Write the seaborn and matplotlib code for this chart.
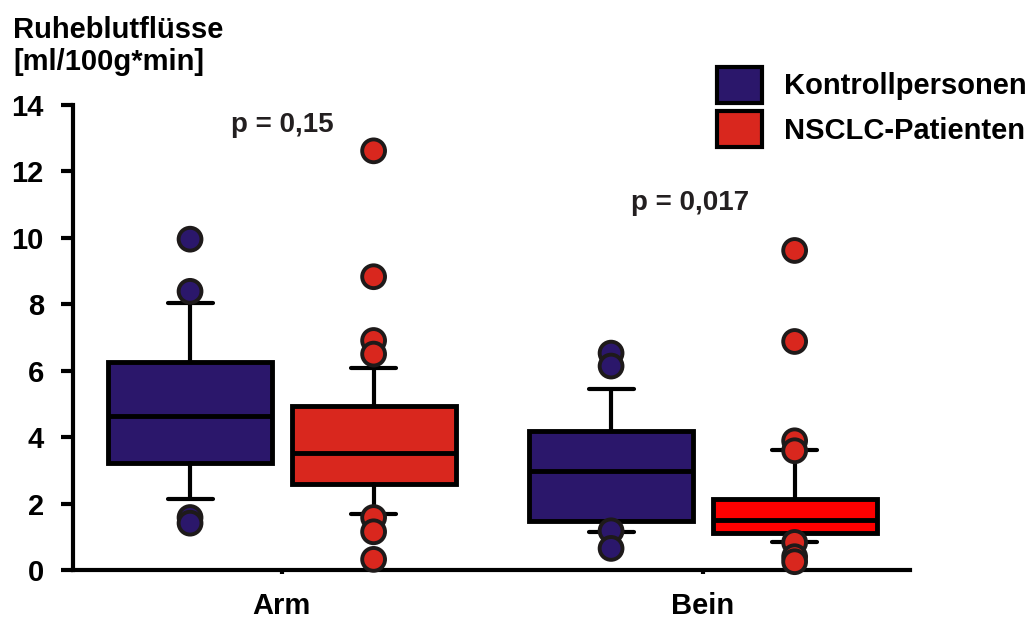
import numpy as np
import pandas as pd
import matplotlib
matplotlib.use("Agg")
import matplotlib.pyplot as plt
from matplotlib.patches import Patch
import seaborn as sns

# Data (box statistics per group)
groups = ["Arm", "Bein"]
series = ["Kontrollpersonen", "NSCLC-Patienten"]
p_values = ["p = 0,15", "p = 0,017"]

ctrl_whislo = [2.13, 1.15]
ctrl_q1 = [3.21, 1.48]
ctrl_med = [4.64, 2.98]
ctrl_q3 = [6.27, 4.20]
ctrl_whishi = [8.03, 5.45]
ctrl_fliers = [[9.96, 8.39, 1.58, 1.41], [6.53, 6.14, 1.18, 0.65]]

pat_whislo = [1.69, 0.83]
pat_q1 = [2.59, 1.10]
pat_med = [3.51, 1.51]
pat_q3 = [4.94, 2.13]
pat_whishi = [6.09, 3.61]
pat_fliers = [[12.62, 8.83, 6.91, 6.50, 1.58, 1.15, 0.32],
              [9.62, 6.88, 3.89, 3.59, 0.83, 0.40, 0.25]]

# styling
blue = "#2b176b"
red = "#d9271e"
box_fills = {"Kontrollpersonen": [blue, blue], "NSCLC-Patienten": [red, "#ff0000"]}
offsets = {"Kontrollpersonen": -0.218, "NSCLC-Patienten": 0.218}

sns.set_style("ticks")
plt.rcParams["font.family"] = ["Liberation Sans", "DejaVu Sans"]
plt.rcParams["font.weight"] = "bold"
plt.rcParams["text.color"] = "black"
plt.rcParams["axes.edgecolor"] = "black"
plt.rcParams["xtick.color"] = "black"
plt.rcParams["ytick.color"] = "black"

fig = plt.figure(figsize=(10.29, 6.19), dpi=100)
ax = fig.add_axes([73 / 1029, 1 - 570 / 619, (910 - 73) / 1029, (570 - 105) / 619])

stats = {
    "Kontrollpersonen": (ctrl_whislo, ctrl_q1, ctrl_med, ctrl_q3, ctrl_whishi),
    "NSCLC-Patienten": (pat_whislo, pat_q1, pat_med, pat_q3, pat_whishi),
}

for name in series:
    wl, q1, med, q3, wh = stats[name]
    bstats = []
    for i in range(len(groups)):
        bstats.append(dict(whislo=wl[i], q1=q1[i], med=med[i], q3=q3[i], whishi=wh[i], fliers=[]))
    pos = [i + offsets[name] for i in range(len(groups))]
    bp = ax.bxp(bstats, positions=pos, widths=0.39, patch_artist=True, showfliers=False,
                capwidths=0.107,
                boxprops=dict(linewidth=3.5, edgecolor="black"),
                medianprops=dict(color="black", linewidth=3.5),
                whiskerprops=dict(color="black", linewidth=3),
                capprops=dict(color="black", linewidth=3),
                manage_ticks=False)
    for patch, fc in zip(bp["boxes"], box_fills[name]):
        patch.set_facecolor(fc)

# outliers via seaborn scatter
rows = []
for name, fl in [("Kontrollpersonen", ctrl_fliers), ("NSCLC-Patienten", pat_fliers)]:
    for i, vals in enumerate(fl):
        for v in vals:
            rows.append({"x": i + offsets[name], "y": v, "Gruppe": name})
fl_df = pd.DataFrame(rows)
sns.scatterplot(data=fl_df, x="x", y="y", hue="Gruppe", palette={"Kontrollpersonen": blue, "NSCLC-Patienten": red},
                s=270, edgecolor="#1e1a1a", linewidth=2.8, legend=False, clip_on=False, zorder=4, ax=ax)

ax.set_xlim(-0.496, 1.492)
ax.set_ylim(0, 14)
ax.set_yticks(range(0, 15, 2))
ax.set_xticks(range(len(groups)))
ax.set_xticklabels(groups)
ax.set_xlabel("")
ax.set_ylabel("")
sns.despine(ax=ax)
for s in ["left", "bottom"]:
    ax.spines[s].set_linewidth(3)
ax.tick_params(axis="y", length=9, width=3, pad=12, labelsize=21)
ax.tick_params(axis="x", length=3, width=3, pad=13, labelsize=21)

for i, (txt, ypos) in enumerate(zip(p_values, [13.2, 10.84])):
    ax.text([0, 0.97][i], ypos, txt, ha="center", va="baseline", fontsize=20, fontweight="bold", color="#231f20")

fig.text(13 / 1029, 1 - 16 / 619, "Ruheblutflüsse\n[ml/100g*min]", ha="left", va="top",
         fontsize=21, fontweight="bold", linespacing=1.2)

handles = [Patch(facecolor=blue, edgecolor="black", linewidth=3),
           Patch(facecolor=red, edgecolor="black", linewidth=3)]
fig.legend(handles, series, loc="upper left", bbox_to_anchor=(717 / 1029, 1 - 67 / 619),
           frameon=False, handlelength=1.55, handleheight=1.5,
           handletextpad=0.75, labelspacing=0.3, borderpad=0, borderaxespad=0,
           prop={"weight": "bold", "size": 21})

fig.savefig("out.png", dpi=100)
